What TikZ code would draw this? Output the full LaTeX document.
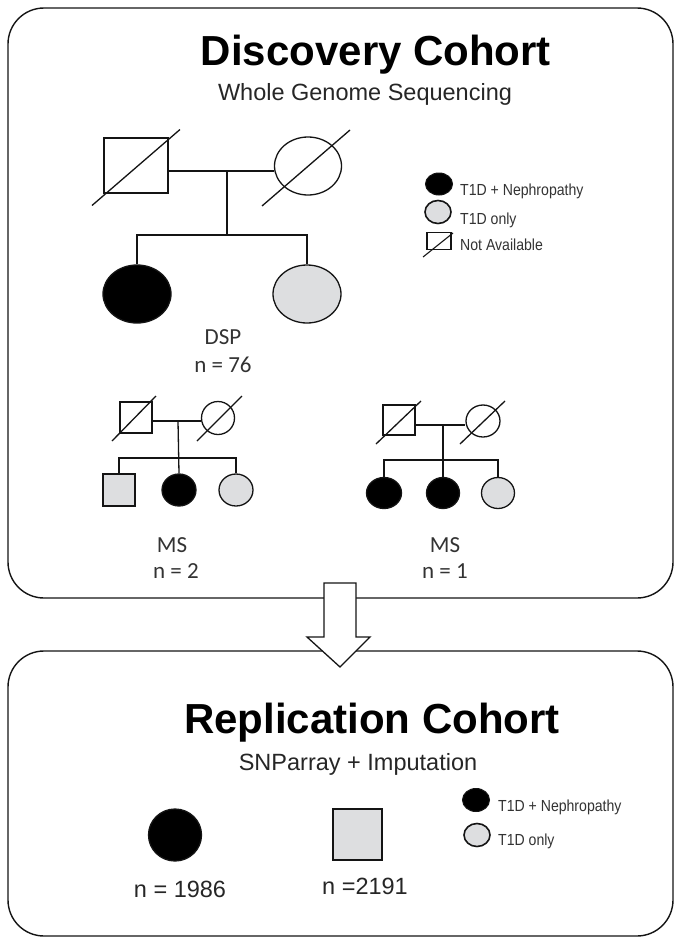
\documentclass[tikz,border=0pt]{standalone}
\usepackage{fontspec}
\setmainfont{Liberation Sans}
\newfontfamily\calfont{Carlito}
\newfontfamily\narrowfont{Liberation Sans}[FakeStretch=0.88]
\usetikzlibrary{shapes.geometric,calc}
\definecolor{pgrey}{RGB}{221,222,224}
\definecolor{pline}{RGB}{20,20,20}
\tikzset{
  cohortbox/.style={draw=pline, line width=1.4pt, rounded corners=36pt, inner sep=0pt},
  ped/.style={draw=pline, line width=1.3pt, inner sep=0pt},
  male/.style={ped, rectangle},
  female/.style={ped, ellipse},
  affected/.style={fill=black},
  tonly/.style={fill=pgrey},
  unaff/.style={fill=white},
  pedline/.style={pline, line width=1.3pt},
  titletext/.style={font=\bfseries\fontsize{42}{48}\selectfont, inner sep=0pt, anchor=base},
  subtext/.style={font=\fontsize{23.5}{28}\selectfont, text=black!85, inner sep=0pt, anchor=base},
  pedlabel/.style={font=\calfont\fontsize{23}{27}\selectfont, text=black!80, inner sep=0pt},
  legtext/.style={font=\narrowfont\fontsize{16}{19}\selectfont, text=black!80, inner sep=0pt, anchor=base west},
  ntext/.style={font=\fontsize{23.5}{28}\selectfont, text=black!85, inner sep=0pt},
}
\begin{document}
\begin{tikzpicture}[x=1pt,y=-1pt]
\useasboundingbox (0,0) rectangle (676,937);
\fill[white] (0,0) rectangle (676,937);

% cohort boxes
\node[cohortbox, minimum width=665pt, minimum height=590pt] (topbox) at (340.5,303) {};
\node[cohortbox, minimum width=665pt, minimum height=285pt] (botbox) at (340.5,793.5) {};

% arrow between boxes
\draw[pline, line width=1.3pt, fill=white, line join=miter]
  (324,583) -- (356,583) -- (356,637) -- (370,637) -- (340,667) -- (307,637) -- (324,637) -- cycle;

% titles
\node[titletext] (t1) at (376,65) {Discovery Cohort};
\node[subtext] (s1) at (365,100) {Whole Genome Sequencing};
\node[titletext] (t2) at (372,733) {Replication Cohort};
\node[subtext] (s2) at (358,770) {SNParray + Imputation};

% ---- DSP pedigree
\node[male, unaff, minimum width=64pt, minimum height=55pt] (f1) at (136,165.5) {};
\node[female, unaff, minimum width=67pt, minimum height=58pt] (m1) at (308,166) {};
\node[female, affected, minimum width=68pt, minimum height=58pt] (c1) at (137,294) {};
\node[female, tonly, minimum width=68pt, minimum height=58pt] (c2) at (307,294) {};
\coordinate (p1) at (227,171);
\coordinate (q1) at (227,235);
\draw[pedline] (f1.east |- p1) -- (m1.west |- p1);
\draw[pedline] (p1) -- (q1);
\draw[pedline] (c1.north) |- (q1) -| (c2.north);
\draw[pedline] ($(f1.center)+(-44,40)$) -- ($(f1.center)+(44,-36)$);
\draw[pedline] ($(m1.center)+(-46,40)$) -- ($(m1.center)+(42,-36)$);
\node[pedlabel] (dsp) at (223,337) {DSP};
\node[pedlabel] (n76) at (223,365) {n = 76};

% ---- MS pedigree 1
\node[male, unaff, minimum width=32pt, minimum height=31pt] (f2) at (136,417.5) {};
\node[female, unaff, minimum width=33pt, minimum height=33pt] (m2) at (218,418) {};
\node[male, tonly, minimum width=32pt, minimum height=32pt] (c3) at (119,490) {};
\node[female, affected, minimum width=34pt, minimum height=32pt] (c4) at (179,490) {};
\node[female, tonly, minimum width=34pt, minimum height=32pt] (c5) at (236,490) {};
\coordinate (p2) at (178,421);
\coordinate (q2) at (178,458);
\draw[pedline] (f2.east |- p2) -- (m2.west |- p2);
\draw[pedline] (p2) -- (c4.north);
\draw[pedline] (c3.north) |- (q2) -| (c5.north);
\draw[pedline] ($(f2.center)+(-24,23.5)$) -- ($(f2.center)+(20,-21.5)$);
\draw[pedline] ($(m2.center)+(-21,23)$) -- ($(m2.center)+(24,-22)$);
\node[pedlabel] (ms1) at (172,545) {MS};
\node[pedlabel] (n2) at (176,571) {n = 2};

% ---- MS pedigree 2
\node[male, unaff, minimum width=32pt, minimum height=30pt] (f3) at (399,420) {};
\node[female, unaff, minimum width=34pt, minimum height=32pt] (m3) at (483,421) {};
\node[female, affected, minimum width=35pt, minimum height=31pt] (c6) at (384,493) {};
\node[female, affected, minimum width=33pt, minimum height=31pt] (c7) at (443,493) {};
\node[female, tonly, minimum width=33pt, minimum height=31pt] (c8) at (498,493) {};
\coordinate (p3) at (443,425);
\coordinate (q3) at (443,460);
\draw[pedline] (f3.east |- p3) -- (m3.west |- p3);
\draw[pedline] (p3) -- (c7.north);
\draw[pedline] (c6.north) |- (q3) -| (c8.north);
\draw[pedline] ($(f3.center)+(-23,24)$) -- ($(f3.center)+(22,-19)$);
\draw[pedline] ($(m3.center)+(-23,23)$) -- ($(m3.center)+(22,-20)$);
\node[pedlabel] (ms2) at (445,545) {MS};
\node[pedlabel] (n1) at (445,571) {n = 1};

% ---- legend (top)
\node[female, affected, line width=1pt, minimum width=27pt, minimum height=22pt] (la) at (439,184) {};
\node[female, tonly, line width=1.6pt, minimum width=26pt, minimum height=23pt] (lb) at (438,212) {};
\node[male, unaff, line width=1.2pt, minimum width=24pt, minimum height=16.5pt] (lc) at (439,241) {};
\draw[pedline, line width=1.1pt] ($(lc.center)+(-16,16)$) -- ($(lc.center)+(14,-8)$);
\node[legtext] (lta) at (460,195) {T1D + Nephropathy};
\node[legtext] (ltb) at (460,224) {T1D only};
\node[legtext] (ltc) at (460,250) {Not Available};

% ---- replication cohort
\node[female, affected, minimum width=53pt, minimum height=52pt] (rc1) at (175,835) {};
\node[male, tonly, minimum width=49pt, minimum height=51pt] (rc2) at (357.5,834.5) {};
\node[ntext] (n1986) at (180,889) {n = 1986};
\node[ntext] (n2191) at (365,886) {n =2191};

% ---- legend (bottom)
\node[female, affected, line width=1pt, minimum width=27pt, minimum height=23pt] (lba) at (476,800) {};
\node[female, tonly, line width=1.6pt, minimum width=26pt, minimum height=23pt] (lbb) at (477,835) {};
\node[legtext] (ltd) at (498,811) {T1D + Nephropathy};
\node[legtext] (lte) at (498,845) {T1D only};
\end{tikzpicture}
\end{document}
